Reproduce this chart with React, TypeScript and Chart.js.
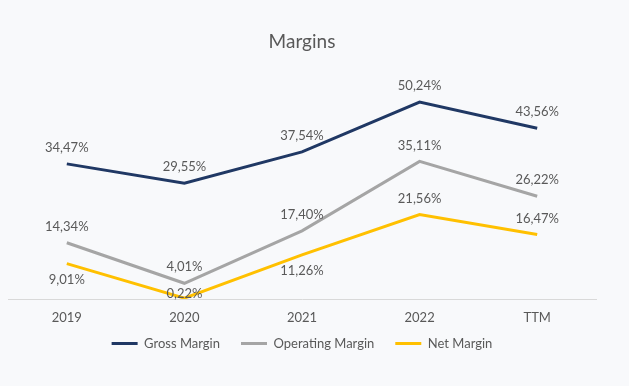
import React, { useEffect, useRef } from "react";
import { Chart, registerables } from "chart.js";

Chart.register(...registerables);

const categories = ["2019", "2020", "2021", "2022", "TTM"];
const grossMargin = [34.47, 29.55, 37.54, 50.24, 43.56];
const operatingMargin = [14.34, 4.01, 17.4, 35.11, 26.22];
const netMargin = [9.01, 0.22, 11.26, 21.56, 16.47];
// label placement per point: "above" or "below"
const grossPos = ["above", "above", "above", "above", "above"];
const operatingPos = ["above", "above", "above", "above", "above"];
const netPos = ["below", "below", "below", "above", "above"];

const FONT = "Lato";
const TEXT = "#595959";

const labelPlugin = {
  id: "valueLabels",
  afterDatasetsDraw(chart: any) {
    const { ctx, chartArea } = chart;
    ctx.save();
    ctx.font = `13px ${FONT}`;
    ctx.fillStyle = TEXT;
    ctx.textAlign = "center";
    ctx.textBaseline = "middle";
    chart.data.datasets.forEach((ds: any, di: number) => {
      const meta = chart.getDatasetMeta(di);
      meta.data.forEach((pt: any, i: number) => {
        const v = ds.data[i] as number;
        const pos = ds.labelPos[i];
        let y = pos === "above" ? pt.y - 16 : pt.y + 16;
        if (y > chartArea.bottom - 5) y = chartArea.bottom - 5;
        const txt = v.toFixed(2).replace(".", ",") + "%";
        ctx.fillText(txt, pt.x, y);
      });
    });
    ctx.restore();
  },
};

const bgPlugin = {
  id: "bg",
  beforeDraw(chart: any) {
    const { ctx, width, height } = chart;
    ctx.save();
    ctx.fillStyle = "#f8f9fb";
    ctx.fillRect(0, 0, width, height);
    ctx.restore();
  },
};

export default function App() {
  const ref = useRef<HTMLCanvasElement>(null);
  useEffect(() => {
    if (!ref.current) return;
    const mk = (label: string, data: number[], color: string, pos: string[]) => ({
      label,
      data,
      borderColor: color,
      backgroundColor: color,
      borderWidth: 3,
      pointRadius: 0,
      tension: 0,
      fill: false,
      labelPos: pos,
    });
    const defaultGen = (Chart as any).defaults.plugins.legend.labels.generateLabels;
    const chart = new Chart(ref.current, {
      type: "line",
      data: {
        labels: categories,
        datasets: [
          mk("Gross Margin", grossMargin, "#203864", grossPos),
          mk("Operating Margin", operatingMargin, "#a5a5a5", operatingPos),
          mk("Net Margin", netMargin, "#ffc000", netPos),
        ] as any,
      },
      options: {
        animation: false,
        responsive: false,
        layout: { padding: { top: 20, left: 8, right: 33, bottom: 26 } },
        plugins: {
          title: {
            display: true,
            text: "Margins",
            color: TEXT,
            font: { family: FONT, size: 19, weight: "normal" },
            padding: { top: 10, bottom: 11 },
          },
          legend: {
            position: "bottom",
            labels: {
              usePointStyle: true,
              pointStyle: "line",
              pointStyleWidth: 26,
              color: TEXT,
              font: { family: FONT, size: 13 },
              padding: 11,
              generateLabels: (c: any) =>
                defaultGen(c).map((l: any, i: number, arr: any[]) => ({
                  ...l,
                  text: i < arr.length - 1 ? l.text + "   " : l.text,
                })),
            },
          },
          tooltip: { enabled: false },
        },
        scales: {
          x: {
            offset: true,
            grid: { display: false, drawTicks: false },
            border: { display: true, color: "#d9d9d9", width: 1 },
            ticks: { color: TEXT, font: { family: FONT, size: 13 }, padding: 11 },
            afterFit: (scale: any) => {
              scale.height = 27;
            },
          },
          y: { display: false, min: 0, max: 60 },
        },
      },
      plugins: [bgPlugin, labelPlugin],
    });
    return () => chart.destroy();
  }, []);
  return (
    <div style={{ position: "fixed", left: 0, top: 0, width: 629, height: 386, background: "#f8f9fb" }}>
      <canvas ref={ref} width={629} height={386} style={{ width: 629, height: 386, display: "block" }} />
    </div>
  );
}
